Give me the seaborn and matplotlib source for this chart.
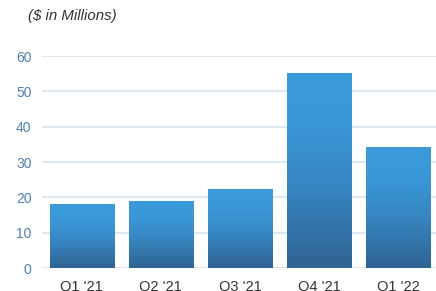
import numpy as np
import pandas as pd
import matplotlib
matplotlib.use("Agg")
import matplotlib.pyplot as plt
from matplotlib.colors import LinearSegmentedColormap
import seaborn as sns

# Chart data ($ in Millions)
quarters = ["Q1 '21", "Q2 '21", "Q3 '21", "Q4 '21", "Q1 '22"]
revenue = [18.1, 19.0, 22.4, 55.2, 34.3]
y_ticks = [0, 10, 20, 30, 40, 50, 60]

sns.set_theme(style="white")
plt.rcParams["font.family"] = ["Liberation Sans", "DejaVu Sans"]

df = pd.DataFrame({"quarter": quarters, "revenue": revenue})

fig = plt.figure(figsize=(4.36, 2.91), dpi=100)
ax = fig.add_axes([42 / 436, 23 / 291, 396 / 436, 212 / 291])

sns.barplot(data=df, x="quarter", y="revenue", color="#3a9ad9",
            width=0.81, saturation=1, ax=ax, zorder=3)

ax.set_xlim(-0.5, 4.5)
ax.set_ylim(0, 60)
ax.set_yticks(y_ticks)
ax.set_xlabel("")
ax.set_ylabel("")

# gradient fill for each bar (light at top, dark at bottom)
cmap = LinearSegmentedColormap.from_list(
    "bar", [(0.0, "#2f6392"), (0.45, "#3788c4"), (0.75, "#3a98d8"), (1.0, "#3a9bdb")])
grad = np.linspace(0, 1, 256).reshape(-1, 1)
for patch in list(ax.patches):
    x0, y0 = patch.get_x(), patch.get_y()
    w, h = patch.get_width(), patch.get_height()
    im = ax.imshow(grad, cmap=cmap, origin="lower", aspect="auto",
                   extent=(x0, x0 + w, y0, y0 + h), zorder=3)
    im.set_clip_path(patch)
    patch.set_facecolor("none")
    patch.set_edgecolor("none")
ax.set_xlim(-0.5, 4.5)
ax.set_ylim(0, 60)

ax.yaxis.grid(True, color="#dde7f1", linewidth=1.4, zorder=0)
ax.set_axisbelow(True)
for s in ax.spines.values():
    s.set_visible(False)
ax.axhline(0, color="#dde7f1", linewidth=2, zorder=1)

ax.tick_params(axis="y", length=0, pad=7.5, labelsize=10, labelcolor="#4f7fb3")
ax.tick_params(axis="x", length=0, pad=8.5, labelsize=10.5, labelcolor="#333333")

fig.text(28 / 436, 1 - 16 / 291, "($ in Millions)", fontsize=10.8, style="italic",
         color="#333333", va="center", ha="left")

fig.savefig("out.png", dpi=100)
